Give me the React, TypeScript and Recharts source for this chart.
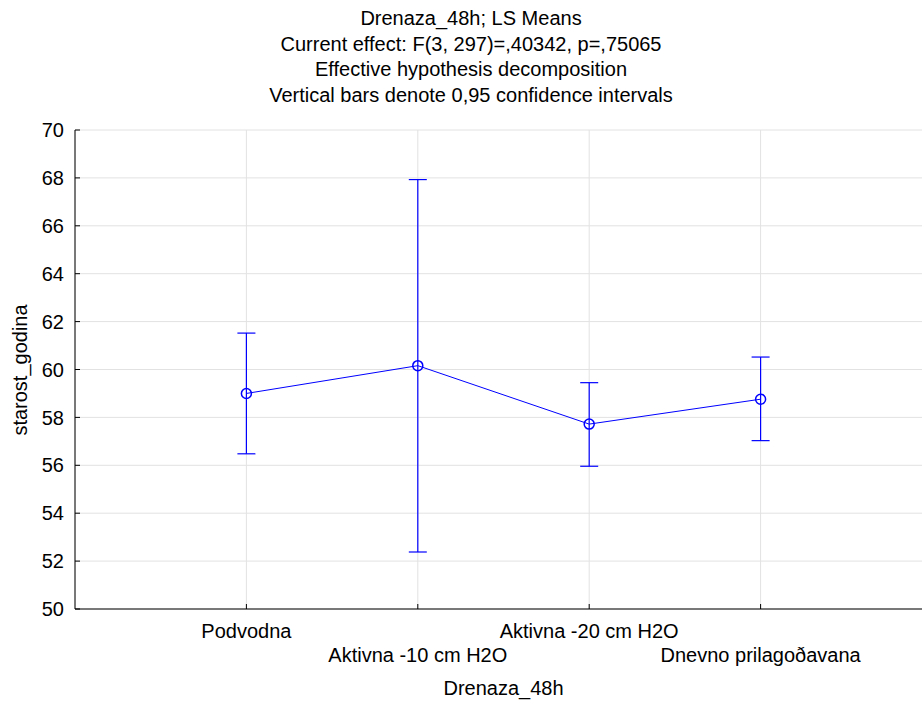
import React from 'react';
import { ComposedChart, Line, XAxis, YAxis, CartesianGrid, ErrorBar, Label } from 'recharts';

const categories = ['Podvodna', 'Aktivna -10 cm H2O', 'Aktivna -20 cm H2O', 'Dnevno prilagoðavana'];
const means = [59.0, 60.16, 57.72, 58.76];
const lowerCI = [56.48, 52.38, 55.96, 57.03];
const upperCI = [61.52, 67.93, 59.45, 60.52];
const yTicks = [50, 52, 54, 56, 58, 60, 62, 64, 66, 68, 70];
const xTicks = [1, 2, 3, 4];
const titleLines = [
  'Drenaza_48h; LS Means',
  'Current effect: F(3, 297)=,40342, p=,75065',
  'Effective hypothesis decomposition',
  'Vertical bars denote 0,95 confidence intervals',
];

const data = categories.map((name, i) => ({
  pos: i + 1,
  name,
  mean: means[i],
  err: [means[i] - lowerCI[i], upperCI[i] - means[i]],
}));

const FONT = '"Liberation Sans", Arial, sans-serif';
const BLUE = '#0000ff';

// labels alternate between two rows so they don't collide
const StaggerTick = (props: any) => {
  const { x, y, payload } = props;
  const idx = payload.value - 1;
  const label = categories[idx];
  if (!label) return null;
  const dy = idx % 2 === 0 ? 29 : 53;
  return (
    <text x={x} y={y + dy} textAnchor="middle" fontSize={20} fill="#000" fontFamily={FONT}>
      {label}
    </text>
  );
};

const YTitle = () => (
  <text
    x={0}
    y={0}
    transform="translate(27, 370) rotate(-90)"
    textAnchor="middle"
    fontSize={20}
    fill="#000"
    fontFamily={FONT}
  >
    starost_godina
  </text>
);

export default function App() {
  return (
    <div
      style={{
        position: 'absolute',
        left: 0,
        top: 0,
        width: 922,
        height: 702,
        overflow: 'hidden',
        background: '#fff',
        fontFamily: FONT,
      }}
    >
      <div
        style={{
          position: 'absolute',
          left: 0,
          top: 6,
          width: 942,
          textAlign: 'center',
          fontSize: 20,
          lineHeight: '25.5px',
          color: '#000',
        }}
      >
        {titleLines.map((t) => (
          <div key={t}>{t}</div>
        ))}
      </div>
      <ComposedChart
        width={940}
        height={702}
        data={data}
        margin={{ top: 130, right: 8, bottom: 0, left: 0 }}
        style={{ fontFamily: FONT }}
      >
        <CartesianGrid stroke="#e2e2e2" strokeWidth={1} />
        <XAxis
          dataKey="pos"
          type="number"
          domain={[0, 5]}
          ticks={xTicks}
          height={93}
          tickSize={-5}
          tickMargin={5}
          interval={0}
          tick={<StaggerTick />}
          axisLine={{ stroke: '#000' }}
          tickLine={{ stroke: '#000' }}
        >
          <Label value="Drenaza_48h" position="insideBottom" offset={7} fontSize={20} fill="#000" />
        </XAxis>
        <XAxis
          xAxisId="top"
          orientation="top"
          dataKey="pos"
          type="number"
          domain={[0, 5]}
          ticks={xTicks}
          height={0}
          tickSize={-5}
          tick={false}
          axisLine={{ stroke: '#000' }}
          tickLine={{ stroke: '#000' }}
        />
        <YAxis
          type="number"
          domain={[50, 70]}
          ticks={yTicks}
          width={75}
          tickSize={-5}
          tickMargin={16}
          interval={0}
          tick={{ fontSize: 20, fill: '#000' }}
          axisLine={{ stroke: '#000' }}
          tickLine={{ stroke: '#000' }}
        >
          <Label content={<YTitle />} />
        </YAxis>
        <Line
          dataKey="mean"
          stroke={BLUE}
          strokeWidth={1}
          isAnimationActive={false}
          dot={{ r: 5, fill: 'none', stroke: BLUE, strokeWidth: 1.5 }}
          activeDot={false}
        >
          <ErrorBar dataKey="err" direction="y" width={9} stroke={BLUE} strokeWidth={1.2} />
        </Line>
      </ComposedChart>
    </div>
  );
}
